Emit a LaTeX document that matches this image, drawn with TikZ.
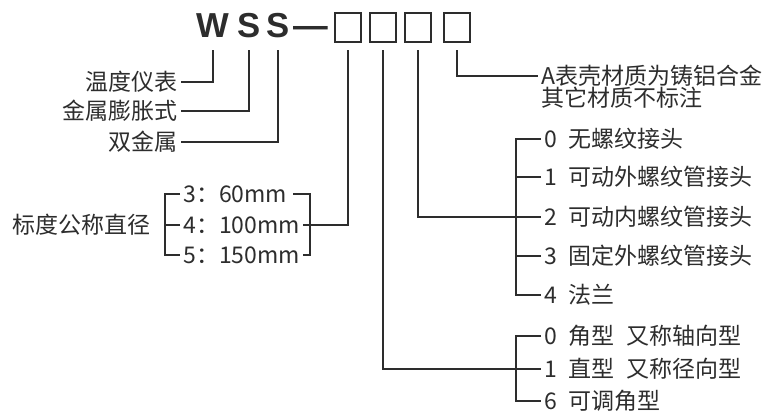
\documentclass[tikz,border=0pt]{standalone}
\usepackage{fontspec}
\setmainfont{Noto Sans CJK SC}
\newfontfamily\titlefont{Liberation Sans}
\usetikzlibrary{positioning, calc}

\begin{document}
\begin{tikzpicture}[x=0.75pt, y=-0.75pt, line width=0.9pt]
  % Define colors
  \definecolor{ink}{RGB}{45, 45, 45}
  \tikzset{
    lbl/.style={font=\fontsize{17.25}{20}\selectfont, text=ink, inner sep=2pt},
    letter/.style={font=\titlefont\bfseries\fontsize{26}{26}\selectfont, text=ink, anchor=base, inner sep=0pt, outer ysep=9.75pt},
    codebox/.style={draw=ink, line width=1.7pt, minimum width=20pt, minimum height=21.75pt, inner sep=0pt, outer ysep=6pt},
    link/.style={draw=ink}
  }
  \useasboundingbox (0,0) rectangle (774,414);

  % Model code
  \foreach \n/\x/\t in {W/213/W, S1/249/S, S2/278/S} {
    \node[letter] (\n) at (\x,37) {\t};
  }
  \node[letter] (dash) at (311,37) {—};
  \foreach \i/\x in {1/348, 2/383, 3/418, 4/457} {
    \node[codebox] (b\i) at (\x,27.5) {};
  }

  % Type
  \node[lbl, anchor=east] (t1) at (181,82) {温度仪表};
  \node[lbl, anchor=east] (t2) at (181,111) {金属膨胀式};
  \node[lbl, anchor=east] (t3) at (181,142) {双金属};
  \draw[link] (W.south) |- (t1.east);
  \draw[link] (S1.south) |- (t2.east);
  \draw[link] (S2.south) |- (t3.east);

  % Dial diameter
  \node[lbl, anchor=east] (dn) at (154,225) {标度公称直径};
  \node[lbl, anchor=west] (d3) at (180,194) {3：60mm};
  \node[lbl, anchor=west] (d4) at (180,225) {4：100mm};
  \node[lbl, anchor=west] (d5) at (180,255) {5：150mm};
  \draw[link] (d3.west) -| ($(d5.west)+(-15,0)$) -- (d5.west);
  \draw[link] (d4.west) -- ++(-15,0);
  \coordinate (rtop) at (293,194);
  \coordinate (rbot) at (310,255);
  \draw[link] (rtop) -| (rbot) -- (d5.east);
  \draw[link] (b1.south) |- (d4.east);

  % Case material
  \node[lbl, anchor=west] (a1) at (538,76) {A表壳材质为铸铝合金};
  \node[lbl, anchor=west] (a2) at (538,98) {其它材质不标注};
  \draw[link] (b4.south) |- (a1.west);

  % Connection
  \foreach \n/\y/\t in {r0/139/{0\enspace 无螺纹接头}, r1/177/{1\enspace 可动外螺纹管接头},
                        r2/217/{2\enspace 可动内螺纹管接头}, r3/256/{3\enspace 固定外螺纹管接头},
                        r4/295/{4\enspace 法兰}} {
    \node[lbl, anchor=west] (\n) at (541,\y) {\t};
  }
  \draw[link] (r0.west) -| ($(r4.west)+(-25,0)$) -- (r4.west);
  \foreach \n in {r1, r3} {
    \draw[link] (\n.west) -- ++(-25,0);
  }
  \draw[link] (b3.south) |- (r2.west);

  % Mounting
  \foreach \n/\y/\t in {p0/336/{0\enspace 角型\enspace 又称轴向型}, p1/369/{1\enspace 直型\enspace 又称径向型},
                        p6/401/{6\enspace 可调角型}} {
    \node[lbl, anchor=west] (\n) at (541,\y) {\t};
  }
  \draw[link] (p0.west) -| ($(p6.west)+(-25,0)$) -- (p6.west);
  \draw[link] (b2.south) |- (p1.west);
\end{tikzpicture}
\end{document}
